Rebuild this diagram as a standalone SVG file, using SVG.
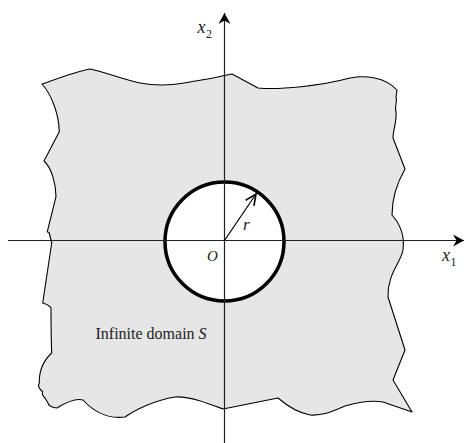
<svg xmlns="http://www.w3.org/2000/svg" width="465" height="443" viewBox="0 0 465 443">
  <style>
    .domain { fill: #e6e6e6; stroke: #000; stroke-width: 1.1; stroke-linejoin: round; }
    .hole { fill: #fff; stroke: #000; stroke-width: 3.5; }
    .axis { stroke: #222; stroke-width: 1.2; fill: none; }
    .radius { stroke: #000; stroke-width: 1.2; fill: none; }
    text { font-family: 'Liberation Serif', 'Times New Roman', serif; fill: #222; }
    .it { font-style: italic; }
    .sub { font-style: normal; }
  </style>
  <defs>
    <marker id="axisArrow" markerUnits="userSpaceOnUse" viewBox="-12 -7 13 14" refX="0" refY="0" markerWidth="13" markerHeight="14" orient="auto">
      <path d="M0,0 L-11,-6 L-7.5,0 L-11,6 Z" fill="#000"/>
    </marker>
    <marker id="openArrow" markerUnits="userSpaceOnUse" viewBox="-13 -7 15 14" refX="0" refY="0" markerWidth="15" markerHeight="14" orient="auto">
      <path d="M-11,-5 L0,0 L-11,5" fill="none" stroke="#000" stroke-width="1.6" stroke-linejoin="miter"/>
    </marker>
  </defs>

  <g id="domain">
    <path class="domain" d="M42,84 C62,77 78,71 90,69 C105,72 125,80 140,83 C155,86 175,85 190,82 C200,80 210,79 218,77 L222,76 L232,74 L258,88 C280,90 320,86 350,78 C365,75 385,77 397,90 L396,97 C398,102 394,106 396,112 C397,121 393,130 393,138 L405,169 C397,183 392,200 392,215 C400,224 405,235 403,250 C401,262 387,275 388,297 L405,350 L393,380 L412,412 L383,402 C370,400 355,403 345,406 C335,410 325,416 310,415 C295,412 285,404 278,398 L223,409 C210,404 190,396 175,397 C155,400 135,410 125,417 C110,419 95,413 83,400 C75,398 65,403 57,408 C52,408 48,405 48,403 L45,398 C42,395 42,393 42.7,391.7 C38,388 38,385 39.3,383 C39,372 42,362 51.7,353 C51,335 51,315 51,308 C50,306 46,304 42.7,303 L51.7,243 L49.3,233 L47.3,231.7 L56,196.7 C56,185 52,168 44,161 L59.3,131.7 C59,115 52,95 42,84 Z"/>
  </g>

  <g id="hole">
    <circle class="hole" cx="224.5" cy="241.5" r="59.5"/>
  </g>

  <g id="connectors">
    <line id="axis-x1" class="axis" x1="8" y1="240.5" x2="464" y2="240.5" marker-end="url(#axisArrow)"/>
    <line id="axis-x2" class="axis" x1="224.5" y1="443" x2="224.5" y2="13" marker-end="url(#axisArrow)"/>
    <line id="radius-r" class="radius" x1="224.5" y1="240.5" x2="256" y2="194" marker-end="url(#openArrow)"/>
  </g>

  <g id="labels">
    <text class="it" x="442" y="261" font-size="18">x<tspan class="sub" font-size="12" dx="0.5" dy="5">1</tspan></text>
    <text class="it" x="197.5" y="33" font-size="18">x<tspan class="sub" font-size="12" dx="0.5" dy="5">2</tspan></text>
    <text class="it" x="243" y="230" font-size="17">r</text>
    <text class="it" x="207" y="261" font-size="15">O</text>
    <text x="95.5" y="339" font-size="16">Infinite domain <tspan class="it">S</tspan></text>
  </g>
</svg>
